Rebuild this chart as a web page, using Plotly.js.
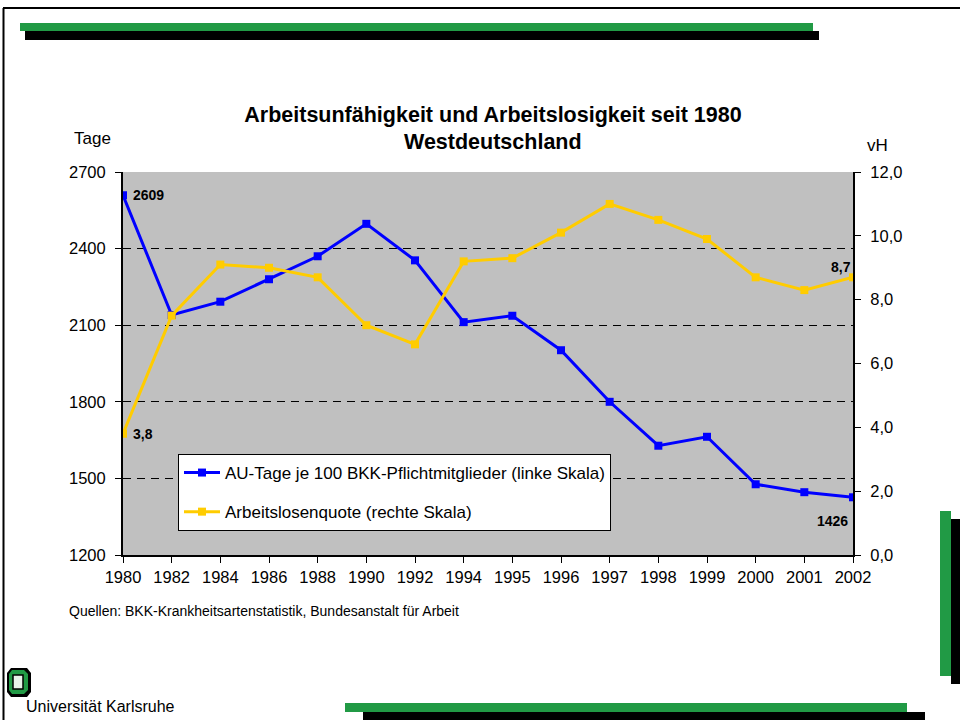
<!DOCTYPE html>
<html>
<head>
<meta charset="utf-8">
<script src="https://cdn.plot.ly/plotly-3.0.1.min.js"></script>
<style>
  html, body { margin: 0; padding: 0; background: #ffffff; }
  #chart { width: 960px; height: 720px; }
</style>
</head>
<body>
<div id="chart"></div>
<script>
// ---- data ----
const years = ['1980','1982','1984','1986','1988','1990','1992','1994','1995','1996','1997','1998','1999','2000','2001','2002'];
const auTage = [2609, 2140, 2192, 2280, 2370, 2497, 2354, 2112, 2137, 2002, 1800, 1628, 1663, 1477, 1446, 1426];
const alQuote = [3.8, 7.5, 9.1, 9.0, 8.7, 7.2, 6.6, 9.2, 9.3, 10.1, 11.0, 10.5, 9.9, 8.7, 8.3, 8.7];
const leftTicks = [1200, 1500, 1800, 2100, 2400, 2700];
const rightTicks = [0, 2, 4, 6, 8, 10, 12];
const nameAU = 'AU-Tage je 100 BKK-Pflichtmitglieder (linke Skala)';
const nameAL = 'Arbeitslosenquote (rechte Skala)';

const FONT = 'Arial, "Liberation Sans", sans-serif';
const W = 960, H = 720;
const M = { l: 123, r: 107, t: 172, b: 165 };
const pw = W - M.l - M.r, ph = H - M.t - M.b;
// pixel -> paper helpers for page decoration
const X = p => (p - M.l) / pw;
const Y = p => (H - M.b - p) / ph;
const fmt = v => v.toFixed(1).replace('.', ',');
// category index -> paper fraction (category axis spans first..last category)
const catX = i => i / (years.length - 1);

const traces = [
  {
    x: years, y: auTage, name: nameAU, legendgroup: 'a',
    type: 'scatter', mode: 'lines+markers', yaxis: 'y',
    line: { color: '#0000FF', width: 3 },
    marker: { symbol: 'square', size: 8, color: '#0000FF' },
    hoverinfo: 'skip'
  },
  {
    x: years, y: alQuote, name: nameAL, legendgroup: 'b',
    type: 'scatter', mode: 'lines+markers', yaxis: 'y2',
    line: { color: '#FFCC00', width: 3 },
    marker: { symbol: 'square', size: 8, color: '#FFCC00' },
    hoverinfo: 'skip'
  }
];

const GREEN = '#219A45';
const rect = (x0, y0, x1, y1, color) => ({
  type: 'rect', xref: 'paper', yref: 'paper',
  x0: X(x0), x1: X(x1), y0: Y(y0), y1: Y(y1),
  fillcolor: color, line: { width: 0 }, layer: 'above'
});
const shapes = [
  // page frame
  { type: 'line', xref: 'paper', yref: 'paper', x0: X(3), x1: X(960), y0: Y(8), y1: Y(8), line: { color: '#000', width: 2 } },
  { type: 'line', xref: 'paper', yref: 'paper', x0: X(3.5), x1: X(3.5), y0: Y(8), y1: Y(720), line: { color: '#000', width: 2 } },
  // top bar
  rect(25, 31, 819, 40, '#000000'),
  rect(20, 23, 813, 31, GREEN),
  // right bar
  rect(951, 519, 960, 684, '#000000'),
  rect(940, 511, 951, 676, GREEN),
  // bottom bar
  rect(363, 712, 925, 720, '#000000'),
  rect(345, 703, 907, 712, GREEN),
  // logo
  { type: 'path', xref: 'paper', yref: 'paper', layer: 'above',
    path: `M ${X(11)} ${Y(668)} L ${X(27)} ${Y(668)} L ${X(31)} ${Y(673)} L ${X(31)} ${Y(692)} L ${X(27)} ${Y(697)} L ${X(11)} ${Y(697)} L ${X(7)} ${Y(692)} L ${X(7)} ${Y(673)} Z`,
    fillcolor: '#000000', line: { width: 0 } },
  { type: 'path', xref: 'paper', yref: 'paper', layer: 'above',
    path: `M ${X(12)} ${Y(670)} L ${X(24)} ${Y(670)} L ${X(28)} ${Y(674)} L ${X(28)} ${Y(690)} L ${X(24)} ${Y(694)} L ${X(12)} ${Y(694)} L ${X(9)} ${Y(690)} L ${X(9)} ${Y(674)} Z`,
    fillcolor: GREEN, line: { width: 0 } },
  { type: 'rect', xref: 'paper', yref: 'paper', layer: 'above',
    x0: X(13), x1: X(23), y0: Y(675), y1: Y(689),
    fillcolor: '#E8F4EA', line: { color: '#000', width: 1.5 } }
];

const ann = (o) => Object.assign({ showarrow: false, font: { family: FONT, color: '#000' } }, o);
const last = years.length - 1;
const annotations = [
  ann({ text: '<b>Westdeutschland</b>', xref: 'paper', yref: 'paper', x: X(493), y: Y(142), xanchor: 'center', yanchor: 'middle', font: { family: FONT, size: 21.5, color: '#000' } }),
  ann({ text: 'Tage', xref: 'paper', yref: 'paper', x: X(92), y: Y(139), xanchor: 'center', yanchor: 'middle', font: { family: FONT, size: 17, color: '#000' } }),
  ann({ text: 'vH', xref: 'paper', yref: 'paper', x: X(877), y: Y(145), xanchor: 'center', yanchor: 'middle', font: { family: FONT, size: 17, color: '#000' } }),
  ann({ text: 'Quellen: BKK-Krankheitsartenstatistik, Bundesanstalt für Arbeit', xref: 'paper', yref: 'paper', x: X(67), y: Y(611), xanchor: 'left', yanchor: 'middle', font: { family: FONT, size: 14, color: '#000' } }),
  ann({ text: 'Universität Karlsruhe', xref: 'paper', yref: 'paper', x: X(24), y: Y(706), xanchor: 'left', yanchor: 'middle', font: { family: FONT, size: 16, color: '#000' } }),
  // data labels
  ann({ text: '<b>' + auTage[0] + '</b>', x: catX(0), y: auTage[0], xref: 'paper', yref: 'y', xanchor: 'left', yanchor: 'middle', xshift: 8, font: { family: FONT, size: 14, color: '#000' } }),
  ann({ text: '<b>' + fmt(alQuote[0]) + '</b>', x: catX(0), y: alQuote[0], xref: 'paper', yref: 'y2', xanchor: 'left', yanchor: 'middle', xshift: 8, font: { family: FONT, size: 14, color: '#000' } }),
  ann({ text: '<b>' + fmt(alQuote[last]) + '</b>', x: catX(last), y: alQuote[last], xref: 'paper', yref: 'y2', xanchor: 'right', yanchor: 'middle', xshift: 0, yshift: 10, font: { family: FONT, size: 14, color: '#000' } }),
  ann({ text: '<b>' + auTage[last] + '</b>', x: catX(last), y: auTage[last], xref: 'paper', yref: 'y', xanchor: 'right', yanchor: 'middle', xshift: -3, yshift: -24, font: { family: FONT, size: 14, color: '#000' } })
];

const layout = {
  width: W, height: H,
  margin: M,
  paper_bgcolor: '#ffffff',
  plot_bgcolor: '#C0C0C0',
  separators: ',.',
  font: { family: FONT, color: '#000000', size: 16.5 },
  title: {
    text: '<b>Arbeitsunfähigkeit und Arbeitslosigkeit seit 1980</b>',
    font: { family: FONT, size: 21.5, color: '#000' },
    xref: 'container', yref: 'container',
    x: 493 / W, xanchor: 'center', y: 1 - 114 / H, yanchor: 'middle'
  },
  showlegend: true,
  legend: {
    x: X(178), y: Y(454), xanchor: 'left', yanchor: 'top',
    bgcolor: '#ffffff', bordercolor: '#000000', borderwidth: 1,
    font: { family: FONT, size: 17, color: '#000' },
    traceorder: 'grouped', tracegroupgap: 14, itemwidth: 36
  },
  xaxis: {
    type: 'category', range: [0, last],
    showline: true, linecolor: '#000', linewidth: 2,
    ticks: 'outside', ticklen: 6, tickwidth: 1, tickcolor: '#000',
    tickfont: { family: FONT, size: 16.5, color: '#000' },
    showgrid: false, zeroline: false, fixedrange: true
  },
  yaxis: {
    range: [leftTicks[0], leftTicks[leftTicks.length - 1]],
    tickmode: 'array', tickvals: leftTicks,
    showline: true, linecolor: '#000', linewidth: 2,
    ticks: 'outside', ticklen: 6, tickwidth: 1, tickcolor: '#000',
    ticklabelstandoff: 6,
    tickfont: { family: FONT, size: 16.5, color: '#000' },
    showgrid: true, gridcolor: '#000000', gridwidth: 1, griddash: '8px,6px',
    zeroline: false, fixedrange: true
  },
  yaxis2: {
    overlaying: 'y', side: 'right',
    range: [rightTicks[0], rightTicks[rightTicks.length - 1]],
    tickmode: 'array', tickvals: rightTicks, tickformat: '.1f',
    showline: true, linecolor: '#000', linewidth: 2,
    ticks: 'outside', ticklen: 6, tickwidth: 1, tickcolor: '#000',
    ticklabelstandoff: 6,
    tickfont: { family: FONT, size: 16.5, color: '#000' },
    showgrid: false, zeroline: false, fixedrange: true
  },
  shapes: shapes,
  annotations: annotations
};

Plotly.newPlot('chart', traces, layout, { staticPlot: true, displayModeBar: false });
</script>
</body>
</html>
